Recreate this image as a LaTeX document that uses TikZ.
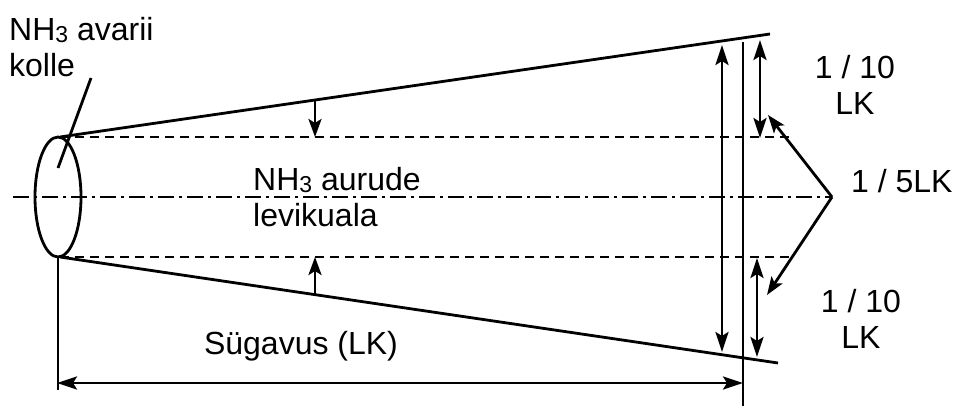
\documentclass[tikz,border=0pt]{standalone}
\usepackage{fontspec}
\setmainfont{Liberation Sans}
\usetikzlibrary{arrows.meta}
% small, slightly lowered index digit
\newcommand\lowidx[1]{\raisebox{-2.5pt}{\fontsize{23}{23}\selectfont #1}}
\tikzset{
  dim/.style={{Stealth[length=20pt,width=13pt,inset=4pt]}-{Stealth[length=20pt,width=13pt,inset=4pt]}},
  pointer/.style={-{Stealth[length=18pt,width=13pt,inset=4pt]}},
  hidden/.style={line width=2.2pt,dash pattern=on 9pt off 6pt},
  axisline/.style={line width=1.9pt,dash pattern=on 16pt off 5pt on 3pt off 5pt},
  lbl/.style={font=\fontsize{32}{36.5}\selectfont, inner sep=0pt},
  stroke/.style={line width=2.8pt},
}
\begin{document}
\begin{tikzpicture}[x=1pt,y=-1pt]
\useasboundingbox (0,0) rectangle (956,406);

% geometry points
\coordinate (srcT) at (60,137);
\coordinate (srcB) at (60,257);
\coordinate (fanT) at (770,34);
\coordinate (fanB) at (778,363);
\coordinate (dashTend) at (792,137);
\coordinate (dashBend) at (792,257);
\coordinate (axL) at (13,197);
\coordinate (axR) at (832,197);
\coordinate (endT) at (743,42);
\coordinate (endB) at (743,406);

% source (ellipse) and leader
\draw[stroke] (58,197) ellipse [x radius=23, y radius=60];
\node[lbl, anchor=north west, align=left] (src) at (9,17) {NH\lowidx{3} avarii\\kolle};
\coordinate (leadA) at (91,78);
\coordinate (leadB) at (58,168);
\draw[stroke] (leadA) -- (leadB);

% cloud boundary
\draw[stroke] (srcT) -- (fanT);
\draw[stroke] (srcB) -- (fanB);
\draw[hidden] (srcT) -- (dashTend);
\draw[hidden] (srcB) -- (dashBend);
\draw[axisline] (axL) -- (axR);

% end section
\draw[stroke] (endT) -- (endB);
\coordinate (wT) at (722,45);
\coordinate (wB) at (722,352);
\draw[stroke,dim] (wT) -- (wB);
\coordinate (qT1) at (760,40);
\coordinate (qT2) at (760,138);
\draw[stroke,dim] (qT1) -- (qT2);
\coordinate (qB1) at (757,258);
\coordinate (qB2) at (757,357);
\draw[stroke,dim] (qB1) -- (qB2);

% narrowing arrows
\coordinate (nT1) at (315,100);
\coordinate (nT2) at (315,137);
\draw[stroke,pointer] (nT1) -- (nT2);
\coordinate (nB1) at (315,295);
\coordinate (nB2) at (315,257);
\draw[stroke,pointer] (nB1) -- (nB2);

% pointers to fifths
\coordinate (pT) at (768,115);
\coordinate (pB) at (767,295);
\draw[stroke,pointer] (axR) -- (pT);
\draw[stroke,pointer] (axR) -- (pB);

% depth dimension
\coordinate (baseL) at (58,257);
\coordinate (baseLB) at (58,390);
\draw[stroke] (baseL) -- (baseLB);
\coordinate (dL) at (57,383);
\coordinate (dR) at (743,383);
\draw[stroke,dim] (dL) -- (dR);

% labels
\node[lbl, anchor=north, align=center] (top10) at (855,55) {1 / 10\\LK};
\node[lbl, anchor=north, align=center] (bot10) at (861,289) {1 / 10\\LK};
\node[lbl, anchor=base west] (fifth) at (851,193) {1 / 5LK};
\node[lbl, anchor=base] (depth) at (301,354) {Sügavus (LK)};
\node[lbl, anchor=north west, align=left] (zone) at (253,167) {NH\lowidx{3} aurude\\levikuala};
\end{tikzpicture}
\end{document}
